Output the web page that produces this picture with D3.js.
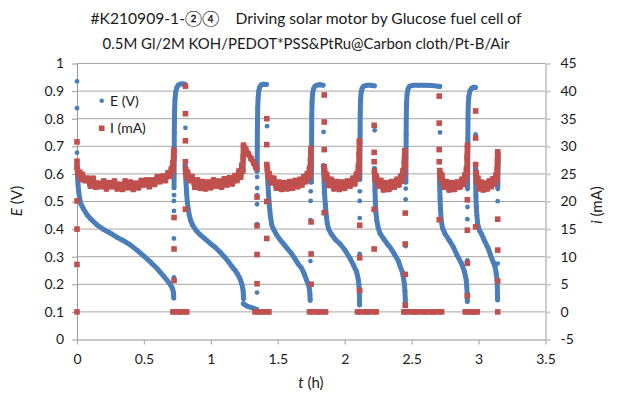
<!DOCTYPE html>
<html>
<head>
<meta charset="utf-8">
<script src="https://cdn.jsdelivr.net/npm/d3@7"></script>
<style>
  body { margin: 0; background: #fff; }
  text { font-family: Lato, "DejaVu Sans", sans-serif; fill: #1a1a1a; }
</style>
</head>
<body>
<div id="chart"></div>
<script>
// chart text
var titleLines = [
    "#K210909-1-\u2461\u2463\u00a0\u00a0\u00a0\u00a0Driving solar motor by Glucose fuel cell of",
    "0.5M Gl/2M KOH/PEDOT*PSS&PtRu@Carbon cloth/Pt-B/Air"
];
var xTicks = [0, 0.5, 1, 1.5, 2, 2.5, 3, 3.5];
var eTicks = [0, 0.1, 0.2, 0.3, 0.4, 0.5, 0.6, 0.7, 0.8, 0.9, 1];
var iTicks = [-5, 0, 5, 10, 15, 20, 25, 30, 35, 40, 45];
var seriesNames = ["E (V)", "I (mA)"];

// E (V): dense stretches of the record, [t (h), E]
var eTraces = [
    [[0,0.625],[0.004,0.59],[0.008,0.56],[0.013,0.535],[0.02,0.51],[0.03,0.49],[0.05,0.472],[0.075,0.452],[0.1,0.438],[0.15,0.415],[0.2,0.398],[0.25,0.385],[0.3,0.37],[0.35,0.357],[0.4,0.342],[0.45,0.323],[0.5,0.302],[0.55,0.28],[0.6,0.256],[0.62,0.245],[0.65,0.228],[0.68,0.21],[0.7,0.197],[0.712,0.186],[0.72,0.172],[0.722,0.16],[0.723,0.15]],
    [[0.725,0.55],[0.726,0.65],[0.727,0.75],[0.729,0.83],[0.732,0.87],[0.737,0.895],[0.745,0.912],[0.757,0.922],[0.775,0.926],[0.795,0.926],[0.808,0.924]],
    [[0.807,0.632],[0.81,0.6],[0.814,0.571],[0.819,0.53],[0.824,0.499],[0.832,0.47],[0.839,0.45],[0.85,0.43],[0.864,0.414],[0.89,0.395],[0.919,0.38],[0.95,0.367],[0.993,0.349],[1.03,0.335],[1.068,0.317],[1.1,0.3],[1.13,0.283],[1.16,0.263],[1.18,0.251],[1.2,0.236],[1.217,0.221],[1.23,0.203],[1.238,0.188],[1.242,0.17],[1.244,0.148]],
    [[1.243,0.13],[1.26,0.124],[1.28,0.119],[1.3,0.116],[1.32,0.113],[1.342,0.109]],
    [[1.346,0.61],[1.347,0.7],[1.348,0.78],[1.35,0.84],[1.353,0.875],[1.358,0.9],[1.365,0.915],[1.378,0.923],[1.395,0.925],[1.415,0.924]],
    [[1.42,0.63],[1.423,0.6],[1.427,0.56],[1.432,0.52],[1.438,0.48],[1.445,0.445],[1.455,0.415],[1.47,0.398],[1.49,0.38],[1.516,0.362],[1.54,0.348],[1.57,0.33],[1.6,0.313],[1.628,0.293],[1.65,0.275],[1.678,0.258],[1.7,0.235],[1.715,0.215],[1.728,0.2],[1.736,0.183],[1.74,0.165],[1.742,0.142]],
    [[1.751,0.57],[1.752,0.66],[1.753,0.74],[1.754,0.81],[1.756,0.86],[1.76,0.89],[1.767,0.908],[1.778,0.918],[1.795,0.922],[1.815,0.923],[1.838,0.921]],
    [[1.84,0.63],[1.843,0.6],[1.846,0.565],[1.85,0.525],[1.855,0.49],[1.862,0.45],[1.87,0.42],[1.88,0.4],[1.9,0.382],[1.93,0.362],[1.964,0.347],[2.0,0.325],[2.039,0.295],[2.065,0.27],[2.089,0.245],[2.1,0.22],[2.106,0.2],[2.109,0.175],[2.11,0.15],[2.111,0.125]],
    [[2.113,0.58],[2.114,0.67],[2.115,0.75],[2.116,0.82],[2.118,0.865],[2.122,0.893],[2.13,0.91],[2.142,0.918],[2.165,0.921],[2.195,0.921],[2.222,0.919]],
    [[2.222,0.62],[2.224,0.58],[2.226,0.54],[2.229,0.5],[2.233,0.46],[2.24,0.43],[2.25,0.405],[2.263,0.385],[2.29,0.365],[2.32,0.345],[2.338,0.335],[2.37,0.31],[2.4,0.285],[2.412,0.268],[2.43,0.245],[2.44,0.22],[2.446,0.2],[2.45,0.175],[2.452,0.15],[2.453,0.13]],
    [[2.457,0.57],[2.458,0.66],[2.459,0.74],[2.46,0.81],[2.462,0.86],[2.466,0.89],[2.473,0.908],[2.485,0.918],[2.51,0.921],[2.55,0.921],[2.6,0.921],[2.65,0.92],[2.69,0.918],[2.71,0.917]],
    [[2.708,0.6],[2.71,0.55],[2.712,0.51],[2.716,0.47],[2.72,0.435],[2.73,0.405],[2.748,0.384],[2.78,0.36],[2.81,0.336],[2.84,0.305],[2.873,0.275],[2.895,0.245],[2.908,0.215],[2.912,0.19],[2.915,0.165],[2.916,0.138]],
    [[2.918,0.55],[2.919,0.64],[2.92,0.73],[2.921,0.8],[2.923,0.85],[2.927,0.88],[2.935,0.9],[2.948,0.91],[2.965,0.914],[2.977,0.913]],
    [[2.976,0.62],[2.978,0.57],[2.98,0.52],[2.983,0.48],[2.987,0.45],[2.993,0.42],[3.0,0.405],[3.01,0.392],[3.022,0.382],[3.04,0.362],[3.06,0.342],[3.072,0.33],[3.09,0.305],[3.11,0.28],[3.122,0.265],[3.132,0.24],[3.138,0.215],[3.14,0.19],[3.141,0.165],[3.142,0.143]],
    [[3.144,0.55],[3.145,0.6],[3.146,0.64],[3.147,0.67]]
];

// E (V): lone samples during the switching steps
var eSingles = [
    [0,0.935],[0,0.838],[0,0.677],[0,0.645],
    [0.724,0.225],[0.724,0.366],[0.724,0.466],[0.724,0.502],[0.725,0.523],
    [0.81,0.767],
    [1.345,0.17],[1.345,0.418],[1.345,0.49],[1.345,0.523],[1.346,0.549],[1.346,0.589],
    [1.42,0.773],
    [1.744,0.284],[1.744,0.432],[1.745,0.502],[1.746,0.537],
    [1.842,0.752],
    [2.111,0.31],[2.112,0.44],[2.112,0.502],[2.113,0.537],
    [2.224,0.758],
    [2.455,0.338],[2.455,0.508],[2.456,0.547],
    [2.712,0.75],
    [2.916,0.287],[2.916,0.436],[2.917,0.48],[2.917,0.508],[2.918,0.545],
    [2.978,0.743],
    [3.143,0.275],[3.143,0.501],[3.144,0.545]
];

// I (mA): dense stretches, [t (h), i]
var iTraces = [
    [[0,26.3],[0.01,24.9],[0.02,25.3],[0.03,24.0],[0.04,24.9],[0.06,23.8],[0.08,24.2],[0.1,22.8],[0.12,24.2],[0.14,22.6],[0.16,23.3],[0.18,22.7],[0.2,23.7],[0.22,22.3],[0.24,23.4],[0.26,22.7],[0.28,23.7],[0.3,22.3],[0.32,23.1],[0.34,22.2],[0.36,23.7],[0.38,22.5],[0.4,23.5],[0.42,22.2],[0.44,23.3],[0.46,22.5],[0.48,23.8],[0.5,23.0],[0.52,23.9],[0.54,22.7],[0.56,23.9],[0.58,23.1],[0.6,24.5],[0.62,23.6],[0.64,24.6],[0.66,23.8],[0.68,25.2],[0.695,24.6],[0.705,25.9],[0.712,25.4],[0.716,27.0],[0.719,26.3],[0.722,28.3],[0.724,29.3]],
    [[0.716,0],[0.768,0],[0.82,0]],
    [[0.812,25.9],[0.818,24.6],[0.826,25.3],[0.84,23.8],[0.86,24.5],[0.88,22.6],[0.9,23.9],[0.92,22.4],[0.94,23.6],[0.96,22.3],[0.98,23.5],[1.0,22.5],[1.02,23.9],[1.04,22.8],[1.06,23.7],[1.08,22.6],[1.1,24.1],[1.12,23.0],[1.14,24.3],[1.16,23.2],[1.18,24.7],[1.195,23.8],[1.21,25.5],[1.222,24.4],[1.232,26.6],[1.238,25.5],[1.242,28.0],[1.244,30.2],[1.26,29.5],[1.28,28.6],[1.3,27.8],[1.32,27.0],[1.335,26.3],[1.342,26.0]],
    [[1.33,0],[1.38,0],[1.434,0]],
    [[1.422,25.9],[1.428,24.5],[1.436,25.0],[1.45,23.4],[1.47,24.2],[1.49,22.4],[1.51,23.5],[1.53,22.2],[1.55,23.4],[1.57,22.3],[1.59,23.6],[1.61,22.4],[1.63,23.8],[1.65,22.7],[1.665,24.0],[1.68,23.0],[1.695,24.5],[1.71,23.6],[1.72,25.0],[1.73,24.2],[1.737,26.0],[1.742,25.1],[1.745,27.5],[1.748,29.6]],
    [[1.737,0],[1.8,0],[1.857,0]],
    [[1.85,25.6],[1.856,24.2],[1.865,24.9],[1.88,22.9],[1.9,24.0],[1.92,22.3],[1.94,23.6],[1.96,22.2],[1.98,23.5],[2.0,22.4],[2.02,23.7],[2.04,22.8],[2.06,24.2],[2.075,23.2],[2.088,25.0],[2.097,24.3],[2.103,26.5],[2.106,25.6],[2.108,28.5],[2.11,31.0]],
    [[2.095,0],[2.165,0],[2.236,0]],
    [[2.222,25.5],[2.228,24.0],[2.236,24.6],[2.25,22.8],[2.27,23.8],[2.29,22.1],[2.31,23.4],[2.33,22.2],[2.35,23.6],[2.37,22.6],[2.39,24.0],[2.405,23.0],[2.418,24.6],[2.428,23.7],[2.436,25.6],[2.442,24.8],[2.446,27.2],[2.449,29.2]],
    [[2.442,0],[2.52,0],[2.6,0],[2.66,0],[2.724,0]],
    [[2.71,25.6],[2.716,24.1],[2.725,24.8],[2.74,22.6],[2.76,23.6],[2.78,22.1],[2.8,23.4],[2.82,22.2],[2.84,23.5],[2.86,22.6],[2.875,24.0],[2.888,23.1],[2.898,24.8],[2.905,24.0],[2.91,26.0],[2.913,25.3],[2.915,28.0],[2.917,30.2]],
    [[2.9,0],[2.945,0],[2.99,0]],
    [[2.982,25.3],[2.988,23.6],[2.995,24.2],[3.005,22.3],[3.02,23.5],[3.035,22.1],[3.05,23.3],[3.065,22.3],[3.08,23.7],[3.095,22.7],[3.108,24.1],[3.12,23.2],[3.13,24.8],[3.136,24.0],[3.14,26.0],[3.142,27.5],[3.143,29.0]]
];

// I (mA): lone samples during the switching steps
var iSingles = [
    [0,30.8],[0,27.3],[0,20.1],[0,15.0],[0,8.6],[0,0],
    [0.725,17.1],[0.725,11.4],[0.725,5.7],
    [0.81,40.9],[0.81,35.9],[0.81,31.0],[0.81,27.2],[0.81,18.6],
    [1.345,20.8],[1.345,15.6],[1.345,10.4],[1.345,5.1],
    [1.418,35.0],[1.418,30.3],[1.418,26.7],[1.418,20.0],[1.418,13.3],
    [1.749,16.3],[1.749,10.5],[1.749,5.0],
    [1.847,39.3],[1.847,34.4],[1.847,29.4],[1.847,26.3],[1.847,18.0],
    [2.112,15.7],[2.112,9.8],[2.112,3.9],
    [2.22,33.8],[2.22,28.9],[2.22,27.2],[2.22,18.6],[2.22,11.4],
    [2.452,26.6],[2.452,17.9],[2.452,12.3],[2.452,6.8],[2.452,1.2],
    [2.706,39.1],[2.706,34.2],[2.706,29.4],[2.706,27.2],[2.706,16.7],
    [2.916,20.3],[2.916,14.8],[2.916,8.8],[2.916,2.9],
    [2.978,36.4],[2.978,31.5],[2.978,26.7],[2.978,15.4],
    [3.143,16.8],[3.143,11.2],[3.143,5.6],[3.143,0]
];

var W = 622, H = 403;
var plot = {left: 77, right: 545.5, top: 63.5, bottom: 339.5};
var blue = "#4a7ebb", red = "#c0504d";

var svg = d3.select("#chart").append("svg")
    .attr("width", W)
    .attr("height", H);

var x = d3.scaleLinear().domain([0, 3.5]).range([plot.left, plot.right]);
var yE = d3.scaleLinear().domain([0, 1]).range([plot.bottom, plot.top]);
var yI = d3.scaleLinear().domain([-5, 45]).range([plot.bottom, plot.top]);

// gridlines
svg.append("g").selectAll("line")
    .data(eTicks.slice(1))
    .enter().append("line")
    .attr("x1", plot.left).attr("x2", plot.right)
    .attr("y1", function(d) { return yE(d); })
    .attr("y2", function(d) { return yE(d); })
    .style("stroke", "#a6a6a6")
    .style("stroke-width", 1);

// axes
function styleAxis(g, color, width) {
    g.select(".domain").style("stroke", color).style("stroke-width", width);
    g.selectAll(".tick line").style("stroke", color).style("stroke-width", width);
    g.selectAll(".tick text").style("font-size", "14px").style("fill", "#1a1a1a")
        .style("font-family", "Lato, sans-serif");
}

var gx = svg.append("g")
    .attr("transform", "translate(0," + plot.bottom + ")")
    .call(d3.axisBottom(x).tickValues(xTicks).tickSizeInner(5).tickSizeOuter(0)
        .tickPadding(10).tickFormat(function(d) { return String(d); }));
styleAxis(gx, "#b3b3b3", 1.3);

var gl = svg.append("g")
    .attr("transform", "translate(" + plot.left + ",0)")
    .call(d3.axisLeft(yE).tickValues(eTicks).tickSizeInner(5).tickSizeOuter(0)
        .tickPadding(8).tickFormat(function(d) { return String(d); }));
styleAxis(gl, "#9a9a9a", 1);

var gr = svg.append("g")
    .attr("transform", "translate(" + plot.right + ",0)")
    .call(d3.axisRight(yI).tickValues(iTicks).tickSizeInner(5).tickSizeOuter(0)
        .tickPadding(10).tickFormat(function(d) { return String(d); }));
styleAxis(gr, "#c8c8c8", 1.8);

// E (V) series
var lineE = d3.line()
    .x(function(d) { return x(d[0]); })
    .y(function(d) { return yE(d[1]); });

var gE = svg.append("g");
gE.selectAll("path")
    .data(eTraces)
    .enter().append("path")
    .attr("d", lineE)
    .style("fill", "none")
    .style("stroke", blue)
    .style("stroke-width", 5)
    .style("stroke-linecap", "round")
    .style("stroke-linejoin", "round");
gE.selectAll("circle")
    .data(eSingles.concat(d3.merge(eTraces)))
    .enter().append("circle")
    .attr("cx", function(d) { return x(d[0]); })
    .attr("cy", function(d) { return yE(d[1]); })
    .attr("r", 2.4)
    .style("fill", blue);

// I (mA) series
var lineI = d3.line()
    .x(function(d) { return x(d[0]); })
    .y(function(d) { return yI(d[1]); });

var sq = 5.6;
var gI = svg.append("g");
gI.selectAll("path")
    .data(iTraces)
    .enter().append("path")
    .attr("d", lineI)
    .style("fill", "none")
    .style("stroke", red)
    .style("stroke-width", 5.6)
    .style("stroke-linejoin", "round");
gI.selectAll("rect")
    .data(iSingles.concat(d3.merge(iTraces)))
    .enter().append("rect")
    .attr("x", function(d) { return x(d[0]) - sq / 2; })
    .attr("y", function(d) { return yI(d[1]) - sq / 2; })
    .attr("width", sq)
    .attr("height", sq)
    .style("fill", red);

// legend
var legend = svg.append("g");
legend.append("circle")
    .attr("cx", 101.7).attr("cy", 100.7).attr("r", 2.3)
    .style("fill", blue);
legend.append("rect")
    .attr("x", 101.7 - sq / 2).attr("y", 128.3 - sq / 2)
    .attr("width", sq).attr("height", sq)
    .style("fill", red);
legend.selectAll("text")
    .data(seriesNames)
    .enter().append("text")
    .attr("x", 110)
    .attr("y", function(d, k) { return 100.7 + k * 27.6; })
    .attr("dy", "0.35em")
    .style("font-size", "14px")
    .text(function(d) { return d; });

// axis titles
function axisTitle(g, italic, rest) {
    g.append("tspan").style("font-style", "italic").text(italic);
    g.append("tspan").text(rest);
}
var tl = svg.append("text")
    .attr("transform", "translate(22,201) rotate(-90)")
    .attr("text-anchor", "middle")
    .style("font-size", "15px");
axisTitle(tl, "E", " (V)");

var tr = svg.append("text")
    .attr("transform", "translate(602,205) rotate(-90)")
    .attr("text-anchor", "middle")
    .style("font-size", "15px");
axisTitle(tr, "i", " (mA)");

var tb = svg.append("text")
    .attr("x", 311).attr("y", 388)
    .attr("text-anchor", "middle")
    .style("font-size", "15px");
axisTitle(tb, "t", " (h)");

// title
var targetWidths = [431, 407];
svg.append("g").selectAll("text")
    .data(titleLines)
    .enter().append("text")
    .attr("x", 306)
    .attr("y", function(d, k) { return 24 + k * 24.6; })
    .attr("text-anchor", "middle")
    .style("font-size", "16px")
    .text(function(d) { return d; })
    .each(function(d, k) {
        var w = this.getComputedTextLength();
        d3.select(this).style("font-size", (16 * targetWidths[k] / w).toFixed(2) + "px");
    });
</script>
</body>
</html>
